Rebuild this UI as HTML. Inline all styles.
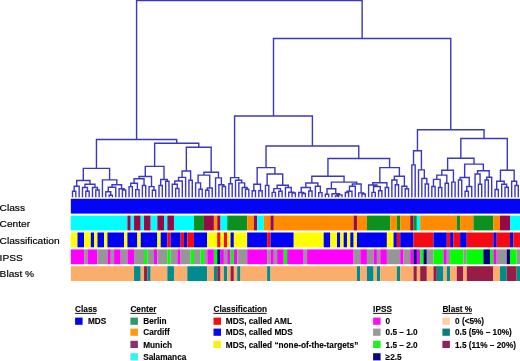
<!DOCTYPE html>
<html><head><meta charset="utf-8"><style>
html,body{margin:0;padding:0;background:#fff;}
svg{display:block;filter:blur(0.3px);}
.lab{font-family:"Liberation Sans",sans-serif;font-size:10.2px;fill:#000;stroke:#000;stroke-width:0.2px;}
.hdr{font-family:"Liberation Sans",sans-serif;font-size:8.7px;font-weight:bold;fill:#000;stroke:#000;stroke-width:0.12px;}
.it{font-family:"Liberation Sans",sans-serif;font-size:8.7px;font-weight:bold;fill:#000;stroke:#000;stroke-width:0.12px;}
</style></head><body>
<svg width="520" height="361" viewBox="0 0 520 361">
<rect width="520" height="361" fill="#fff"/>
<path d="M72.50 191.20L75.83 191.20M72.50 191.20L72.50 196.60M75.83 191.20L75.83 196.60M74.16 186.30L79.15 186.30M74.16 186.30L74.16 191.20M79.15 186.30L79.15 196.60M85.81 191.20L89.13 191.20M85.81 191.20L85.81 196.60M89.13 191.20L89.13 196.60M82.48 187.50L87.47 187.50M82.48 187.50L82.48 196.60M87.47 187.50L87.47 191.20M95.79 190.00L99.12 190.00M95.79 190.00L95.79 196.60M99.12 190.00L99.12 196.60M92.46 187.50L97.45 187.50M92.46 187.50L92.46 196.60M97.45 187.50L97.45 190.00M84.98 184.30L94.96 184.30M84.98 184.30L84.98 187.50M94.96 184.30L94.96 187.50M76.66 180.50L89.97 180.50M76.66 180.50L76.66 186.30M89.97 180.50L89.97 184.30M109.10 195.20L112.42 195.20M109.10 195.20L109.10 196.60M112.42 195.20L112.42 196.60M105.77 191.80L110.76 191.80M105.77 191.80L105.77 196.60M110.76 191.80L110.76 195.20M108.27 187.30L115.75 187.30M108.27 187.30L108.27 191.80M115.75 187.30L115.75 196.60M122.41 190.00L125.73 190.00M122.41 190.00L122.41 196.60M125.73 190.00L125.73 196.60M119.08 188.80L124.07 188.80M119.08 188.80L119.08 196.60M124.07 188.80L124.07 190.00M112.01 184.70L121.57 184.70M112.01 184.70L112.01 187.30M121.57 184.70L121.57 188.80M102.44 179.90L116.79 179.90M102.44 179.90L102.44 196.60M116.79 179.90L116.79 184.70M83.31 168.40L109.62 168.40M83.31 168.40L83.31 180.50M109.62 168.40L109.62 179.90M129.06 186.60L132.39 186.60M129.06 186.60L129.06 196.60M132.39 186.60L132.39 196.60M135.71 189.60L139.04 189.60M135.71 189.60L135.71 196.60M139.04 189.60L139.04 196.60M130.72 183.20L137.38 183.20M130.72 183.20L130.72 186.60M137.38 183.20L137.38 189.60M142.37 185.50L145.69 185.50M142.37 185.50L142.37 196.60M145.69 185.50L145.69 196.60M134.05 178.70L144.03 178.70M134.05 178.70L134.05 183.20M144.03 178.70L144.03 185.50M152.35 190.30L155.68 190.30M152.35 190.30L152.35 196.60M155.68 190.30L155.68 196.60M149.02 186.60L154.01 186.60M149.02 186.60L149.02 196.60M154.01 186.60L154.01 190.30M139.04 176.50L151.52 176.50M139.04 176.50L139.04 178.70M151.52 176.50L151.52 186.60M159.00 185.50L162.33 185.50M159.00 185.50L159.00 196.60M162.33 185.50L162.33 196.60M165.66 181.30L168.98 181.30M165.66 181.30L165.66 196.60M168.98 181.30L168.98 196.60M160.67 179.50L167.32 179.50M160.67 179.50L160.67 185.50M167.32 179.50L167.32 181.30M145.28 166.40L163.99 166.40M145.28 166.40L145.28 176.50M163.99 166.40L163.99 179.50M175.64 188.50L178.96 188.50M175.64 188.50L175.64 196.60M178.96 188.50L178.96 196.60M172.31 184.30L177.30 184.30M172.31 184.30L172.31 196.60M177.30 184.30L177.30 188.50M174.81 181.00L182.29 181.00M174.81 181.00L174.81 184.30M182.29 181.00L182.29 196.60M178.55 177.40L185.62 177.40M178.55 177.40L178.55 181.00M185.62 177.40L185.62 196.60M188.94 180.20L192.27 180.20M188.94 180.20L188.94 196.60M192.27 180.20L192.27 196.60M182.08 171.00L190.61 171.00M182.08 171.00L182.08 177.40M190.61 171.00L190.61 180.20M198.93 189.30L202.25 189.30M198.93 189.30L198.93 196.60M202.25 189.30L202.25 196.60M195.60 182.90L200.59 182.90M195.60 182.90L195.60 196.60M200.59 182.90L200.59 189.30M205.58 190.20L208.91 190.20M205.58 190.20L205.58 196.60M208.91 190.20L208.91 196.60M207.24 188.00L212.23 188.00M207.24 188.00L207.24 190.20M212.23 188.00L212.23 196.60M198.09 175.10L209.74 175.10M198.09 175.10L198.09 182.90M209.74 175.10L209.74 188.00M222.22 186.50L225.54 186.50M222.22 186.50L222.22 196.60M225.54 186.50L225.54 196.60M218.89 184.70L223.88 184.70M218.89 184.70L218.89 196.60M223.88 184.70L223.88 186.50M215.56 177.90L221.38 177.90M215.56 177.90L215.56 196.60M221.38 177.90L221.38 184.70M203.92 172.20L218.47 172.20M203.92 172.20L203.92 175.10M218.47 172.20L218.47 177.90M186.35 147.30L211.19 147.30M186.35 147.30L186.35 171.00M211.19 147.30L211.19 172.20M154.64 143.30L198.77 143.30M154.64 143.30L154.64 166.40M198.77 143.30L198.77 147.30M96.46 139.50L176.70 139.50M96.46 139.50L96.46 168.40M176.70 139.50L176.70 143.30M228.87 183.80L232.20 183.80M228.87 183.80L228.87 196.60M232.20 183.80L232.20 196.60M245.50 189.30L248.83 189.30M245.50 189.30L245.50 196.60M248.83 189.30L248.83 196.60M242.18 187.50L247.17 187.50M242.18 187.50L242.18 196.60M247.17 187.50L247.17 189.30M238.85 182.90L244.67 182.90M238.85 182.90L238.85 196.60M244.67 182.90L244.67 187.50M235.52 180.30L241.76 180.30M235.52 180.30L235.52 196.60M241.76 180.30L241.76 182.90M230.53 177.60L238.64 177.60M230.53 177.60L230.53 183.80M238.64 177.60L238.64 180.30M252.16 190.80L255.48 190.80M252.16 190.80L252.16 196.60M255.48 190.80L255.48 196.60M258.81 190.80L262.14 190.80M258.81 190.80L258.81 196.60M262.14 190.80L262.14 196.60M253.82 184.30L260.48 184.30M253.82 184.30L253.82 190.80M260.48 184.30L260.48 190.80M265.47 185.40L268.79 185.40M265.47 185.40L265.47 196.60M268.79 185.40L268.79 196.60M272.12 192.40L275.45 192.40M272.12 192.40L272.12 196.60M275.45 192.40L275.45 196.60M278.77 191.30L282.10 191.30M278.77 191.30L278.77 196.60M282.10 191.30L282.10 196.60M273.78 188.60L280.44 188.60M273.78 188.60L273.78 192.40M280.44 188.60L280.44 191.30M292.08 193.00L295.41 193.00M292.08 193.00L292.08 196.60M295.41 193.00L295.41 196.60M288.75 192.20L293.75 192.20M288.75 192.20L288.75 196.60M293.75 192.20L293.75 193.00M285.43 187.50L291.25 187.50M285.43 187.50L285.43 196.60M291.25 187.50L291.25 192.20M277.11 185.20L288.34 185.20M277.11 185.20L277.11 188.60M288.34 185.20L288.34 187.50M267.13 174.00L282.72 174.00M267.13 174.00L267.13 185.40M282.72 174.00L282.72 185.20M257.15 167.60L274.93 167.60M257.15 167.60L257.15 184.30M274.93 167.60L274.93 174.00M302.06 193.50L305.39 193.50M302.06 193.50L302.06 196.60M305.39 193.50L305.39 196.60M298.74 192.50L303.73 192.50M298.74 192.50L298.74 196.60M303.73 192.50L303.73 193.50M308.72 191.00L312.04 191.00M308.72 191.00L308.72 196.60M312.04 191.00L312.04 196.60M301.23 187.50L310.38 187.50M301.23 187.50L301.23 192.50M310.38 187.50L310.38 191.00M318.70 192.60L322.02 192.60M318.70 192.60L318.70 196.60M322.02 192.60L322.02 196.60M315.37 186.20L320.36 186.20M315.37 186.20L315.37 196.60M320.36 186.20L320.36 192.60M305.81 183.00L317.87 183.00M305.81 183.00L305.81 187.50M317.87 183.00L317.87 186.20M325.35 194.30L328.68 194.30M325.35 194.30L325.35 196.60M328.68 194.30L328.68 196.60M335.33 196.00L338.66 196.00M335.33 196.00L335.33 196.60M338.66 196.00L338.66 196.60M337.00 194.90L341.99 194.90M337.00 194.90L337.00 196.00M341.99 194.90L341.99 196.60M332.01 193.70L339.49 193.70M332.01 193.70L332.01 196.60M339.49 193.70L339.49 194.90M327.02 188.80L335.75 188.80M327.02 188.80L327.02 194.30M335.75 188.80L335.75 193.70M345.31 192.50L348.64 192.50M345.31 192.50L345.31 196.60M348.64 192.50L348.64 196.60M346.98 191.30L351.97 191.30M346.98 191.30L346.98 192.50M351.97 191.30L351.97 196.60M349.47 186.20L355.30 186.20M349.47 186.20L349.47 191.30M355.30 186.20L355.30 196.60M361.95 194.00L365.28 194.00M361.95 194.00L361.95 196.60M365.28 194.00L365.28 196.60M358.62 192.90L363.61 192.90M358.62 192.90L358.62 196.60M363.61 192.90L363.61 194.00M352.38 184.00L361.12 184.00M352.38 184.00L352.38 186.20M361.12 184.00L361.12 192.90M331.38 182.10L356.75 182.10M331.38 182.10L331.38 188.80M356.75 182.10L356.75 184.00M311.84 176.20L344.07 176.20M311.84 176.20L311.84 183.00M344.07 176.20L344.07 182.10M371.93 192.40L375.26 192.40M371.93 192.40L371.93 196.60M375.26 192.40L375.26 196.60M378.58 190.80L381.91 190.80M378.58 190.80L378.58 196.60M381.91 190.80L381.91 196.60M373.59 186.50L380.25 186.50M373.59 186.50L373.59 192.40M380.25 186.50L380.25 190.80M368.60 185.00L376.92 185.00M368.60 185.00L368.60 196.60M376.92 185.00L376.92 186.50M385.24 187.50L388.56 187.50M385.24 187.50L385.24 196.60M388.56 187.50L388.56 196.60M372.76 182.70L386.90 182.70M372.76 182.70L372.76 185.00M386.90 182.70L386.90 187.50M395.22 184.80L398.55 184.80M395.22 184.80L395.22 196.60M398.55 184.80L398.55 196.60M391.89 180.00L396.88 180.00M391.89 180.00L391.89 196.60M396.88 180.00L396.88 184.80M405.20 188.70L408.53 188.70M405.20 188.70L405.20 196.60M408.53 188.70L408.53 196.60M401.87 186.30L406.86 186.30M401.87 186.30L401.87 196.60M406.86 186.30L406.86 188.70M394.39 176.20L404.37 176.20M394.39 176.20L394.39 180.00M404.37 176.20L404.37 186.30M379.83 167.60L399.38 167.60M379.83 167.60L379.83 182.70M399.38 167.60L399.38 176.20M327.95 158.50L389.60 158.50M327.95 158.50L327.95 176.20M389.60 158.50L389.60 167.60M266.04 146.00L358.78 146.00M266.04 146.00L266.04 167.60M358.78 146.00L358.78 158.50M234.59 116.00L312.41 116.00M234.59 116.00L234.59 177.60M312.41 116.00L312.41 146.00M411.85 164.90L415.18 164.90M411.85 164.90L411.85 196.60M415.18 164.90L415.18 196.60M425.16 184.00L428.49 184.00M425.16 184.00L425.16 196.60M428.49 184.00L428.49 196.60M421.83 178.50L426.83 178.50M421.83 178.50L421.83 196.60M426.83 178.50L426.83 184.00M418.51 169.90L424.33 169.90M418.51 169.90L418.51 196.60M424.33 169.90L424.33 178.50M413.52 150.80L421.42 150.80M413.52 150.80L413.52 164.90M421.42 150.80L421.42 169.90M431.82 186.50L435.14 186.50M431.82 186.50L431.82 196.60M435.14 186.50L435.14 196.60M438.47 187.50L441.80 187.50M438.47 187.50L438.47 196.60M441.80 187.50L441.80 196.60M433.48 179.40L440.13 179.40M433.48 179.40L433.48 186.50M440.13 179.40L440.13 187.50M445.12 183.20L448.45 183.20M445.12 183.20L445.12 196.60M448.45 183.20L448.45 196.60M436.81 175.10L446.79 175.10M436.81 175.10L436.81 179.40M446.79 175.10L446.79 183.20M451.78 182.10L455.11 182.10M451.78 182.10L451.78 196.60M455.11 182.10L455.11 196.60M441.80 170.30L453.44 170.30M441.80 170.30L441.80 175.10M453.44 170.30L453.44 182.10M458.43 180.00L461.76 180.00M458.43 180.00L458.43 196.60M461.76 180.00L461.76 196.60M465.09 191.30L468.41 191.30M465.09 191.30L465.09 196.60M468.41 191.30L468.41 196.60M466.75 186.50L471.74 186.50M466.75 186.50L466.75 191.30M471.74 186.50L471.74 196.60M460.10 177.50L469.24 177.50M460.10 177.50L460.10 180.00M469.24 177.50L469.24 186.50M478.39 184.30L481.72 184.30M478.39 184.30L478.39 196.60M481.72 184.30L481.72 196.60M475.07 174.00L480.06 174.00M475.07 174.00L475.07 196.60M480.06 174.00L480.06 184.30M485.05 180.00L488.38 180.00M485.05 180.00L485.05 196.60M488.38 180.00L488.38 196.60M486.71 177.30L491.70 177.30M486.71 177.30L486.71 180.00M491.70 177.30L491.70 196.60M477.56 170.80L489.21 170.80M477.56 170.80L477.56 174.00M489.21 170.80L489.21 177.30M464.67 164.10L483.38 164.10M464.67 164.10L464.67 177.50M483.38 164.10L483.38 170.80M447.62 158.20L474.03 158.20M447.62 158.20L447.62 170.30M474.03 158.20L474.03 164.10M495.03 189.50L498.36 189.50M495.03 189.50L495.03 196.60M498.36 189.50L498.36 196.60M505.01 187.20L508.34 187.20M505.01 187.20L505.01 196.60M508.34 187.20L508.34 196.60M501.68 184.30L506.67 184.30M501.68 184.30L501.68 196.60M506.67 184.30L506.67 187.20M496.69 181.20L504.18 181.20M496.69 181.20L496.69 189.50M504.18 181.20L504.18 184.30M514.99 185.50L518.32 185.50M514.99 185.50L514.99 196.60M518.32 185.50L518.32 196.60M511.66 181.20L516.65 181.20M511.66 181.20L511.66 196.60M516.65 181.20L516.65 185.50M500.44 170.20L514.16 170.20M500.44 170.20L500.44 181.20M514.16 170.20L514.16 181.20M460.82 138.50L507.30 138.50M460.82 138.50L460.82 158.20M507.30 138.50L507.30 170.20M417.47 129.70L484.06 129.70M417.47 129.70L417.47 150.80M484.06 129.70L484.06 138.50M273.50 38.50L450.76 38.50M273.50 38.50L273.50 116.00M450.76 38.50L450.76 129.70M136.58 0.50L362.13 0.50M136.58 0.50L136.58 139.50M362.13 0.50L362.13 38.50" stroke="#3b37bf" stroke-width="1.4" fill="none" stroke-linecap="square"/>
<rect x="70.84" y="198.8" width="449.16" height="14.8" fill="#0505f5"/><rect x="70.84" y="215.6" width="56.56" height="14.8" fill="#00ffff"/><rect x="127.40" y="215.6" width="3.33" height="14.8" fill="#960a4a"/><rect x="130.73" y="215.6" width="3.33" height="14.8" fill="#00ffff"/><rect x="134.05" y="215.6" width="6.65" height="14.8" fill="#960a4a"/><rect x="140.71" y="215.6" width="3.33" height="14.8" fill="#00ffff"/><rect x="144.03" y="215.6" width="6.65" height="14.8" fill="#960a4a"/><rect x="150.69" y="215.6" width="6.65" height="14.8" fill="#00ffff"/><rect x="157.34" y="215.6" width="6.65" height="14.8" fill="#960a4a"/><rect x="164.00" y="215.6" width="3.33" height="14.8" fill="#00ffff"/><rect x="167.32" y="215.6" width="6.65" height="14.8" fill="#960a4a"/><rect x="173.98" y="215.6" width="19.96" height="14.8" fill="#00ffff"/><rect x="193.94" y="215.6" width="9.98" height="14.8" fill="#0c9020"/><rect x="203.92" y="215.6" width="9.98" height="14.8" fill="#960a4a"/><rect x="213.90" y="215.6" width="3.33" height="14.8" fill="#ff8c00"/><rect x="217.23" y="215.6" width="3.33" height="14.8" fill="#960a4a"/><rect x="220.56" y="215.6" width="6.65" height="14.8" fill="#00ffff"/><rect x="227.21" y="215.6" width="19.96" height="14.8" fill="#0c9020"/><rect x="247.17" y="215.6" width="6.65" height="14.8" fill="#ff8c00"/><rect x="253.82" y="215.6" width="3.33" height="14.8" fill="#960a4a"/><rect x="257.15" y="215.6" width="6.65" height="14.8" fill="#00ffff"/><rect x="263.81" y="215.6" width="6.65" height="14.8" fill="#ff8c00"/><rect x="270.46" y="215.6" width="3.33" height="14.8" fill="#960a4a"/><rect x="273.79" y="215.6" width="79.85" height="14.8" fill="#ff8c00"/><rect x="353.63" y="215.6" width="3.33" height="14.8" fill="#960a4a"/><rect x="356.96" y="215.6" width="9.98" height="14.8" fill="#ff8c00"/><rect x="366.94" y="215.6" width="23.29" height="14.8" fill="#0c9020"/><rect x="390.23" y="215.6" width="6.65" height="14.8" fill="#ff8c00"/><rect x="396.89" y="215.6" width="3.33" height="14.8" fill="#0c9020"/><rect x="400.21" y="215.6" width="9.98" height="14.8" fill="#ff8c00"/><rect x="410.19" y="215.6" width="3.33" height="14.8" fill="#960a4a"/><rect x="413.52" y="215.6" width="3.33" height="14.8" fill="#0c9020"/><rect x="416.85" y="215.6" width="3.33" height="14.8" fill="#00ffff"/><rect x="420.17" y="215.6" width="36.60" height="14.8" fill="#ff8c00"/><rect x="456.77" y="215.6" width="3.33" height="14.8" fill="#0c9020"/><rect x="460.10" y="215.6" width="13.31" height="14.8" fill="#ff8c00"/><rect x="473.41" y="215.6" width="19.96" height="14.8" fill="#0c9020"/><rect x="493.37" y="215.6" width="6.65" height="14.8" fill="#ff8c00"/><rect x="500.02" y="215.6" width="9.98" height="14.8" fill="#960a4a"/><rect x="510.00" y="215.6" width="9.98" height="14.8" fill="#00ffff"/><rect x="70.84" y="232.5" width="6.65" height="14.8" fill="#ffff00"/><rect x="77.49" y="232.5" width="6.65" height="14.8" fill="#0000f5"/><rect x="84.15" y="232.5" width="6.65" height="14.8" fill="#ffff00"/><rect x="90.80" y="232.5" width="3.33" height="14.8" fill="#0000f5"/><rect x="94.13" y="232.5" width="3.33" height="14.8" fill="#ffff00"/><rect x="97.46" y="232.5" width="6.65" height="14.8" fill="#0000f5"/><rect x="104.11" y="232.5" width="3.33" height="14.8" fill="#ffff00"/><rect x="107.44" y="232.5" width="16.63" height="14.8" fill="#0000f5"/><rect x="124.07" y="232.5" width="3.33" height="14.8" fill="#ffff00"/><rect x="127.40" y="232.5" width="9.98" height="14.8" fill="#0000f5"/><rect x="137.38" y="232.5" width="3.33" height="14.8" fill="#ffff00"/><rect x="140.71" y="232.5" width="16.63" height="14.8" fill="#0000f5"/><rect x="157.34" y="232.5" width="3.33" height="14.8" fill="#ffff00"/><rect x="160.67" y="232.5" width="6.65" height="14.8" fill="#0000f5"/><rect x="167.32" y="232.5" width="3.33" height="14.8" fill="#f50a14"/><rect x="170.65" y="232.5" width="9.98" height="14.8" fill="#0000f5"/><rect x="180.63" y="232.5" width="3.33" height="14.8" fill="#f50a14"/><rect x="183.96" y="232.5" width="3.33" height="14.8" fill="#0000f5"/><rect x="187.28" y="232.5" width="6.65" height="14.8" fill="#f50a14"/><rect x="193.94" y="232.5" width="13.31" height="14.8" fill="#0000f5"/><rect x="207.25" y="232.5" width="9.98" height="14.8" fill="#ffff00"/><rect x="217.23" y="232.5" width="3.33" height="14.8" fill="#f50a14"/><rect x="220.56" y="232.5" width="3.33" height="14.8" fill="#ffff00"/><rect x="223.88" y="232.5" width="3.33" height="14.8" fill="#f50a14"/><rect x="227.21" y="232.5" width="3.33" height="14.8" fill="#ffff00"/><rect x="230.54" y="232.5" width="3.33" height="14.8" fill="#0000f5"/><rect x="233.86" y="232.5" width="13.31" height="14.8" fill="#ffff00"/><rect x="247.17" y="232.5" width="19.96" height="14.8" fill="#0000f5"/><rect x="267.13" y="232.5" width="3.33" height="14.8" fill="#f50a14"/><rect x="270.46" y="232.5" width="23.29" height="14.8" fill="#0000f5"/><rect x="293.75" y="232.5" width="29.94" height="14.8" fill="#ffff00"/><rect x="323.69" y="232.5" width="6.65" height="14.8" fill="#0000f5"/><rect x="330.35" y="232.5" width="6.65" height="14.8" fill="#ffff00"/><rect x="337.00" y="232.5" width="3.33" height="14.8" fill="#0000f5"/><rect x="340.33" y="232.5" width="3.33" height="14.8" fill="#ffff00"/><rect x="343.65" y="232.5" width="3.33" height="14.8" fill="#0000f5"/><rect x="346.98" y="232.5" width="3.33" height="14.8" fill="#ffff00"/><rect x="350.31" y="232.5" width="3.33" height="14.8" fill="#0000f5"/><rect x="353.63" y="232.5" width="3.33" height="14.8" fill="#ffff00"/><rect x="356.96" y="232.5" width="29.94" height="14.8" fill="#0000f5"/><rect x="386.90" y="232.5" width="6.65" height="14.8" fill="#ffff00"/><rect x="393.56" y="232.5" width="3.33" height="14.8" fill="#0000f5"/><rect x="396.89" y="232.5" width="3.33" height="14.8" fill="#f50a14"/><rect x="400.21" y="232.5" width="13.31" height="14.8" fill="#0000f5"/><rect x="413.52" y="232.5" width="19.96" height="14.8" fill="#f50a14"/><rect x="433.48" y="232.5" width="13.31" height="14.8" fill="#0000f5"/><rect x="446.79" y="232.5" width="3.33" height="14.8" fill="#f50a14"/><rect x="450.12" y="232.5" width="3.33" height="14.8" fill="#0000f5"/><rect x="453.45" y="232.5" width="6.65" height="14.8" fill="#f50a14"/><rect x="460.10" y="232.5" width="6.65" height="14.8" fill="#0000f5"/><rect x="466.75" y="232.5" width="26.62" height="14.8" fill="#f50a14"/><rect x="493.37" y="232.5" width="3.33" height="14.8" fill="#0000f5"/><rect x="496.70" y="232.5" width="13.31" height="14.8" fill="#f50a14"/><rect x="510.00" y="232.5" width="3.33" height="14.8" fill="#0000f5"/><rect x="513.33" y="232.5" width="6.65" height="14.8" fill="#f50a14"/><rect x="70.84" y="249.4" width="13.31" height="14.8" fill="#ff00ff"/><rect x="84.15" y="249.4" width="3.33" height="14.8" fill="#969696"/><rect x="87.47" y="249.4" width="9.98" height="14.8" fill="#ff00ff"/><rect x="97.46" y="249.4" width="9.98" height="14.8" fill="#969696"/><rect x="107.44" y="249.4" width="3.33" height="14.8" fill="#ff00ff"/><rect x="110.76" y="249.4" width="3.33" height="14.8" fill="#969696"/><rect x="114.09" y="249.4" width="6.65" height="14.8" fill="#ff00ff"/><rect x="120.75" y="249.4" width="6.65" height="14.8" fill="#969696"/><rect x="127.40" y="249.4" width="6.65" height="14.8" fill="#ff00ff"/><rect x="134.05" y="249.4" width="9.98" height="14.8" fill="#969696"/><rect x="144.03" y="249.4" width="3.33" height="14.8" fill="#00ff00"/><rect x="147.36" y="249.4" width="6.65" height="14.8" fill="#969696"/><rect x="154.01" y="249.4" width="3.33" height="14.8" fill="#ff00ff"/><rect x="157.34" y="249.4" width="9.98" height="14.8" fill="#969696"/><rect x="167.32" y="249.4" width="3.33" height="14.8" fill="#00ff00"/><rect x="170.65" y="249.4" width="6.65" height="14.8" fill="#969696"/><rect x="177.30" y="249.4" width="3.33" height="14.8" fill="#ff00ff"/><rect x="180.63" y="249.4" width="9.98" height="14.8" fill="#969696"/><rect x="190.61" y="249.4" width="3.33" height="14.8" fill="#00ff00"/><rect x="193.94" y="249.4" width="6.65" height="14.8" fill="#969696"/><rect x="200.59" y="249.4" width="3.33" height="14.8" fill="#00ff00"/><rect x="203.92" y="249.4" width="3.33" height="14.8" fill="#969696"/><rect x="207.25" y="249.4" width="6.65" height="14.8" fill="#ff00ff"/><rect x="213.90" y="249.4" width="3.33" height="14.8" fill="#00ff00"/><rect x="217.23" y="249.4" width="3.33" height="14.8" fill="#000080"/><rect x="220.56" y="249.4" width="3.33" height="14.8" fill="#ff00ff"/><rect x="223.88" y="249.4" width="3.33" height="14.8" fill="#969696"/><rect x="227.21" y="249.4" width="3.33" height="14.8" fill="#ff00ff"/><rect x="230.54" y="249.4" width="3.33" height="14.8" fill="#00ff00"/><rect x="233.86" y="249.4" width="3.33" height="14.8" fill="#ff00ff"/><rect x="237.19" y="249.4" width="9.98" height="14.8" fill="#969696"/><rect x="247.17" y="249.4" width="19.96" height="14.8" fill="#ff00ff"/><rect x="267.13" y="249.4" width="3.33" height="14.8" fill="#969696"/><rect x="270.46" y="249.4" width="3.33" height="14.8" fill="#ff00ff"/><rect x="273.79" y="249.4" width="3.33" height="14.8" fill="#969696"/><rect x="277.11" y="249.4" width="6.65" height="14.8" fill="#ff00ff"/><rect x="283.77" y="249.4" width="3.33" height="14.8" fill="#00ff00"/><rect x="287.10" y="249.4" width="16.63" height="14.8" fill="#ff00ff"/><rect x="303.73" y="249.4" width="3.33" height="14.8" fill="#969696"/><rect x="307.06" y="249.4" width="46.58" height="14.8" fill="#ff00ff"/><rect x="353.63" y="249.4" width="6.65" height="14.8" fill="#969696"/><rect x="360.29" y="249.4" width="6.65" height="14.8" fill="#ff00ff"/><rect x="366.94" y="249.4" width="6.65" height="14.8" fill="#969696"/><rect x="373.60" y="249.4" width="3.33" height="14.8" fill="#ff00ff"/><rect x="376.92" y="249.4" width="3.33" height="14.8" fill="#969696"/><rect x="380.25" y="249.4" width="6.65" height="14.8" fill="#ff00ff"/><rect x="386.90" y="249.4" width="13.31" height="14.8" fill="#969696"/><rect x="400.21" y="249.4" width="3.33" height="14.8" fill="#ff00ff"/><rect x="403.54" y="249.4" width="6.65" height="14.8" fill="#969696"/><rect x="410.19" y="249.4" width="3.33" height="14.8" fill="#ff00ff"/><rect x="413.52" y="249.4" width="3.33" height="14.8" fill="#000080"/><rect x="416.85" y="249.4" width="3.33" height="14.8" fill="#ff00ff"/><rect x="420.17" y="249.4" width="3.33" height="14.8" fill="#00ff00"/><rect x="423.50" y="249.4" width="3.33" height="14.8" fill="#000080"/><rect x="426.83" y="249.4" width="6.65" height="14.8" fill="#969696"/><rect x="433.48" y="249.4" width="9.98" height="14.8" fill="#00ff00"/><rect x="443.46" y="249.4" width="3.33" height="14.8" fill="#ff00ff"/><rect x="446.79" y="249.4" width="3.33" height="14.8" fill="#969696"/><rect x="450.12" y="249.4" width="13.31" height="14.8" fill="#00ff00"/><rect x="463.43" y="249.4" width="3.33" height="14.8" fill="#969696"/><rect x="466.75" y="249.4" width="16.63" height="14.8" fill="#00ff00"/><rect x="483.39" y="249.4" width="6.65" height="14.8" fill="#000080"/><rect x="490.04" y="249.4" width="3.33" height="14.8" fill="#00ff00"/><rect x="493.37" y="249.4" width="3.33" height="14.8" fill="#ff00ff"/><rect x="496.70" y="249.4" width="9.98" height="14.8" fill="#969696"/><rect x="506.68" y="249.4" width="3.33" height="14.8" fill="#000080"/><rect x="510.00" y="249.4" width="6.65" height="14.8" fill="#00ff00"/><rect x="516.66" y="249.4" width="3.33" height="14.8" fill="#969696"/><rect x="70.84" y="266.2" width="63.21" height="14.8" fill="#fbae6c"/><rect x="134.05" y="266.2" width="6.65" height="14.8" fill="#008c8c"/><rect x="140.71" y="266.2" width="3.33" height="14.8" fill="#fbae6c"/><rect x="144.03" y="266.2" width="3.33" height="14.8" fill="#961e46"/><rect x="147.36" y="266.2" width="3.33" height="14.8" fill="#008c8c"/><rect x="150.69" y="266.2" width="16.64" height="14.8" fill="#fbae6c"/><rect x="167.32" y="266.2" width="6.65" height="14.8" fill="#008c8c"/><rect x="173.98" y="266.2" width="13.31" height="14.8" fill="#fbae6c"/><rect x="187.28" y="266.2" width="19.96" height="14.8" fill="#008c8c"/><rect x="207.25" y="266.2" width="6.65" height="14.8" fill="#fbae6c"/><rect x="213.90" y="266.2" width="3.33" height="14.8" fill="#008c8c"/><rect x="217.23" y="266.2" width="3.33" height="14.8" fill="#961e46"/><rect x="220.56" y="266.2" width="3.33" height="14.8" fill="#fbae6c"/><rect x="223.88" y="266.2" width="3.33" height="14.8" fill="#008c8c"/><rect x="227.21" y="266.2" width="3.33" height="14.8" fill="#fbae6c"/><rect x="230.54" y="266.2" width="3.33" height="14.8" fill="#961e46"/><rect x="233.86" y="266.2" width="3.33" height="14.8" fill="#fbae6c"/><rect x="237.19" y="266.2" width="3.33" height="14.8" fill="#008c8c"/><rect x="240.52" y="266.2" width="26.62" height="14.8" fill="#fbae6c"/><rect x="267.13" y="266.2" width="3.33" height="14.8" fill="#008c8c"/><rect x="270.46" y="266.2" width="86.50" height="14.8" fill="#fbae6c"/><rect x="356.96" y="266.2" width="3.33" height="14.8" fill="#008c8c"/><rect x="360.29" y="266.2" width="6.65" height="14.8" fill="#fbae6c"/><rect x="366.94" y="266.2" width="6.65" height="14.8" fill="#008c8c"/><rect x="373.60" y="266.2" width="3.33" height="14.8" fill="#fbae6c"/><rect x="376.92" y="266.2" width="3.33" height="14.8" fill="#008c8c"/><rect x="380.25" y="266.2" width="16.63" height="14.8" fill="#fbae6c"/><rect x="396.89" y="266.2" width="3.33" height="14.8" fill="#008c8c"/><rect x="400.21" y="266.2" width="13.31" height="14.8" fill="#fbae6c"/><rect x="413.52" y="266.2" width="3.33" height="14.8" fill="#961e46"/><rect x="416.85" y="266.2" width="3.33" height="14.8" fill="#fbae6c"/><rect x="420.17" y="266.2" width="6.65" height="14.8" fill="#961e46"/><rect x="426.83" y="266.2" width="6.65" height="14.8" fill="#fbae6c"/><rect x="433.48" y="266.2" width="3.33" height="14.8" fill="#961e46"/><rect x="436.81" y="266.2" width="6.65" height="14.8" fill="#008c8c"/><rect x="443.46" y="266.2" width="3.33" height="14.8" fill="#fbae6c"/><rect x="446.79" y="266.2" width="3.33" height="14.8" fill="#008c8c"/><rect x="450.12" y="266.2" width="6.65" height="14.8" fill="#fbae6c"/><rect x="456.77" y="266.2" width="6.65" height="14.8" fill="#961e46"/><rect x="463.43" y="266.2" width="3.33" height="14.8" fill="#fbae6c"/><rect x="466.75" y="266.2" width="26.62" height="14.8" fill="#961e46"/><rect x="493.37" y="266.2" width="6.65" height="14.8" fill="#fbae6c"/><rect x="500.02" y="266.2" width="6.65" height="14.8" fill="#008c8c"/><rect x="506.68" y="266.2" width="9.98" height="14.8" fill="#961e46"/><rect x="516.66" y="266.2" width="3.33" height="14.8" fill="#008c8c"/>
<text transform="translate(-0.4,211.2) scale(1,0.93)" class="lab">Class</text><text transform="translate(-0.4,227.3) scale(1,0.93)" class="lab">Center</text><text transform="translate(-0.4,244.1) scale(1,0.93)" class="lab">Classification</text><text transform="translate(-0.4,260.8) scale(1,0.93)" class="lab">IPSS</text><text transform="translate(-0.4,276.8) scale(1,0.93)" class="lab">Blast %</text>
<text transform="translate(75.1,312.0) scale(0.95,1)" class="hdr">Class</text><rect x="75.1" y="312.9" width="21.2" height="0.95" fill="#111"/><rect x="75.1" y="317.6" width="7.5" height="7.2" fill="#0505f5"/><text transform="translate(88.0,324.4) scale(0.95,1)" class="it">MDS</text><text transform="translate(130.4,312.0) scale(0.95,1)" class="hdr">Center</text><rect x="130.4" y="312.9" width="25.9" height="0.95" fill="#111"/><rect x="130.4" y="317.6" width="7.5" height="7.2" fill="#2e9a6a"/><text transform="translate(143.2,324.4) scale(0.95,1)" class="it">Berlin</text><rect x="130.4" y="328.6" width="7.5" height="7.2" fill="#ff9a10"/><text transform="translate(143.2,335.3) scale(0.95,1)" class="it">Cardiff</text><rect x="130.4" y="340.8" width="7.5" height="7.2" fill="#8e2e6c"/><text transform="translate(143.2,347.6) scale(0.95,1)" class="it">Munich</text><rect x="130.4" y="353.2" width="7.5" height="7.2" fill="#30f4f4"/><text transform="translate(143.2,360.0) scale(0.95,1)" class="it">Salamanca</text><text transform="translate(213.5,312.0) scale(0.95,1)" class="hdr">Classification</text><rect x="213.4" y="312.9" width="53.1" height="0.95" fill="#111"/><rect x="213.5" y="317.6" width="7.5" height="7.2" fill="#f01010"/><text transform="translate(225.8,324.4) scale(0.95,1)" class="it">MDS, called AML</text><rect x="213.5" y="328.6" width="7.5" height="7.2" fill="#0808f0"/><text transform="translate(225.8,335.3) scale(0.95,1)" class="it">MDS, called MDS</text><rect x="213.5" y="340.8" width="7.5" height="7.2" fill="#f8f010"/><text transform="translate(225.8,347.6) scale(0.95,1)" class="it">MDS, called “none-of-the-targets”</text><text transform="translate(373.1,312.0) scale(0.95,1)" class="hdr">IPSS</text><rect x="373.1" y="312.9" width="18.4" height="0.95" fill="#111"/><rect x="373.1" y="317.6" width="7.5" height="7.2" fill="#ff10f0"/><text transform="translate(385.6,324.4) scale(0.95,1)" class="it">0</text><rect x="373.1" y="328.6" width="7.5" height="7.2" fill="#9a9a9a"/><text transform="translate(385.6,335.3) scale(0.95,1)" class="it">0.5 – 1.0</text><rect x="373.1" y="340.8" width="7.5" height="7.2" fill="#20f020"/><text transform="translate(385.6,347.6) scale(0.95,1)" class="it">1.5 – 2.0</text><rect x="373.1" y="353.2" width="7.5" height="7.2" fill="#0a0a80"/><text transform="translate(385.6,360.0) scale(0.95,1)" class="it">≥2.5</text><text transform="translate(442.4,312.0) scale(0.95,1)" class="hdr">Blast %</text><rect x="442.4" y="312.9" width="29.4" height="0.95" fill="#111"/><rect x="442.4" y="317.6" width="7.5" height="7.2" fill="#fcd0a0"/><text transform="translate(455.0,324.4) scale(0.95,1)" class="it">0 (&lt;5%)</text><rect x="442.4" y="328.6" width="7.5" height="7.2" fill="#0a7e7e"/><text transform="translate(455.0,335.3) scale(0.95,1)" class="it">0.5 (5% – 10%)</text><rect x="442.4" y="340.8" width="7.5" height="7.2" fill="#8e2260"/><text transform="translate(455.0,347.6) scale(0.95,1)" class="it">1.5 (11% – 20%)</text>
</svg>
</body></html>
